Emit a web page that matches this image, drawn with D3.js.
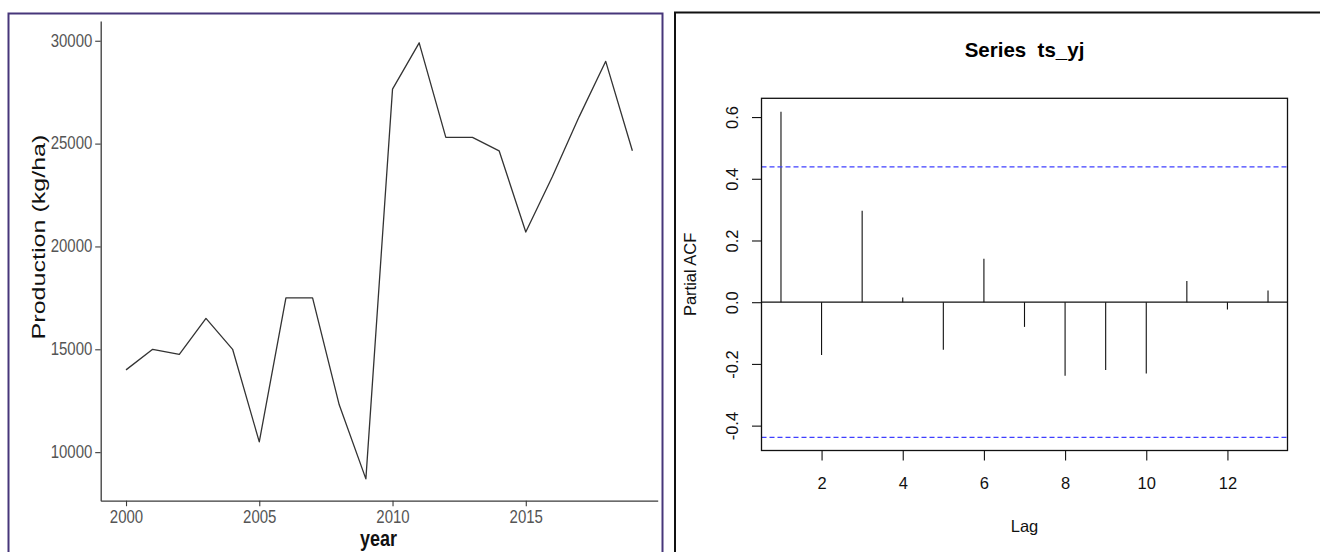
<!DOCTYPE html>
<html>
<head>
<meta charset="utf-8">
<script src="https://cdn.jsdelivr.net/npm/d3@7"></script>
<style>
  html, body { margin: 0; padding: 0; background: #ffffff; }
  svg { display: block; font-family: "Liberation Sans", Arial, sans-serif; }
</style>
</head>
<body>
<svg id="chart" width="1320" height="552"></svg>
<script>
// ---------- data ----------
const years = [2000, 2001, 2002, 2003, 2004, 2005, 2006, 2007, 2008, 2009,
               2010, 2011, 2012, 2013, 2014, 2015, 2016, 2017, 2018, 2019];
const production = [14000, 15000, 14750, 16500, 15000, 10500, 17500, 17500, 12300, 8700,
                    27650, 29900, 25300, 25300, 24650, 20700, 23400, 26300, 29000, 24650];
const yearTicks = [2000, 2005, 2010, 2015];
const prodTicks = [10000, 15000, 20000, 25000, 30000];

const lags = [1, 2, 3, 4, 5, 6, 7, 8, 9, 10, 11, 12, 13];
const pacf = [0.617, -0.171, 0.296, 0.015, -0.154, 0.141, -0.080, -0.238, -0.220, -0.231, 0.069, -0.024, 0.038];
const ciBounds = [0.4383, -0.4383];
const lagTicks = [2, 4, 6, 8, 10, 12];
const pacfTicks = [-0.4, -0.2, 0.0, 0.2, 0.4, 0.6];
const pacfTickLabels = ["-0.4", "-0.2", "0.0", "0.2", "0.4", "0.6"];

const svg = d3.select("#chart");

// ---------- panel frames ----------
svg.append("rect").attr("x", 8.5).attr("y", 13.5).attr("width", 654).attr("height", 560)
  .attr("fill", "none").attr("stroke", "#47367a").attr("stroke-width", 2);
svg.append("rect").attr("x", 675).attr("y", 12.5).attr("width", 700).attr("height", 560)
  .attr("fill", "none").attr("stroke", "#111").attr("stroke-width", 2);

// ---------- left: production line ----------
const xL = d3.scaleLinear().domain([1999.05, 2019.95]).range([100.7, 657.7]);
const yL = d3.scaleLinear().domain([7640, 30960]).range([500.7, 21]);
const stretch = 1.2;
const axisCol = "#3a3a3a", tickTxt = "#555555";

const gxL = svg.append("g").attr("transform", "translate(0,500.7)")
  .call(d3.axisBottom(xL).tickValues(yearTicks).tickSize(5.5).tickSizeOuter(0).tickFormat(d3.format("d")));
gxL.select(".domain").attr("stroke", axisCol).attr("stroke-width", 1.3);
gxL.selectAll(".tick line").attr("stroke", axisCol).attr("stroke-width", 1.1);
gxL.selectAll(".tick text")
  .attr("y", 22 / stretch).attr("dy", null)
  .attr("transform", `scale(1,${stretch})`)
  .attr("font-size", 15).attr("fill", tickTxt).attr("font-family", "Liberation Sans, Arial, sans-serif");

const gyL = svg.append("g").attr("transform", "translate(100.7,0)")
  .call(d3.axisLeft(yL).tickValues(prodTicks).tickSize(5.5).tickSizeOuter(0).tickFormat(d3.format("d")));
gyL.select(".domain").attr("stroke", axisCol).attr("stroke-width", 1.3);
gyL.selectAll(".tick line").attr("stroke", axisCol).attr("stroke-width", 1.1);
gyL.selectAll(".tick text")
  .attr("x", -8.4).attr("dy", null).attr("y", 5.3 / stretch)
  .attr("transform", `scale(1,${stretch})`)
  .attr("font-size", 15).attr("fill", tickTxt).attr("font-family", "Liberation Sans, Arial, sans-serif");

const line = d3.line().x((d, i) => xL(years[i])).y(d => yL(d));
svg.append("path").datum(production)
  .attr("d", line).attr("fill", "none").attr("stroke", "#333").attr("stroke-width", 1.3)
  .attr("stroke-linejoin", "round");

svg.append("text")
  .attr("transform", `translate(378.5,545.7) scale(1,${stretch})`)
  .attr("text-anchor", "middle").attr("font-size", 18).attr("font-weight", "bold")
  .attr("fill", "#111").text("year");

svg.append("text")
  .attr("transform", `translate(45,237) scale(1,1.32) rotate(-90)`)
  .attr("text-anchor", "middle").attr("font-size", 19)
  .attr("fill", "#111").text("Production (kg/ha)");

// ---------- right: PACF ----------
const xR = d3.scaleLinear().domain([0.52, 13.48]).range([761.5, 1287.5]);
const yR = d3.scaleLinear().domain([-0.4806, 0.6608]).range([450.5, 98.3]);
const fsR = 16.5;

// zero line
svg.append("line").attr("x1", xR(0.52)).attr("x2", xR(13.48))
  .attr("y1", yR(0)).attr("y2", yR(0)).attr("stroke", "#111").attr("stroke-width", 1.2);

// spikes
svg.append("g").selectAll("line").data(pacf).join("line")
  .attr("x1", (d, i) => xR(lags[i])).attr("x2", (d, i) => xR(lags[i]))
  .attr("y1", yR(0)).attr("y2", d => yR(d))
  .attr("stroke", "#111").attr("stroke-width", 1.1);

// confidence bounds
svg.append("g").selectAll("line").data(ciBounds).join("line")
  .attr("x1", xR(0.52)).attr("x2", xR(13.48))
  .attr("y1", d => yR(d)).attr("y2", d => yR(d))
  .attr("stroke", "#3f3fff").attr("stroke-width", 1.3).attr("stroke-dasharray", "5,3");

// box
svg.append("rect").attr("x", xR(0.52)).attr("y", yR(0.6608))
  .attr("width", xR(13.48) - xR(0.52)).attr("height", yR(-0.4806) - yR(0.6608))
  .attr("fill", "none").attr("stroke", "#111").attr("stroke-width", 1.3);

// x axis
const gxR = svg.append("g").attr("transform", `translate(0,${yR(-0.4806)})`)
  .call(d3.axisBottom(xR).tickValues(lagTicks).tickSize(10).tickSizeOuter(0));
gxR.select(".domain").remove();
gxR.selectAll(".tick line").attr("stroke", "#111").attr("stroke-width", 1.1);
gxR.selectAll(".tick text").attr("y", 489.3 - yR(-0.4806)).attr("dy", null)
  .attr("font-size", fsR).attr("fill", "#111").attr("font-family", "Liberation Sans, Arial, sans-serif");

// y axis
const gyR = svg.append("g").attr("transform", `translate(${xR(0.52)},0)`)
  .call(d3.axisLeft(yR).tickValues(pacfTicks).tickSize(9.5).tickSizeOuter(0)
    .tickFormat((d, i) => pacfTickLabels[i]));
gyR.select(".domain").remove();
gyR.selectAll(".tick line").attr("stroke", "#111").attr("stroke-width", 1.1);
gyR.selectAll(".tick text")
  .attr("x", null).attr("dy", null).attr("text-anchor", "middle")
  .attr("transform", `translate(${738 - xR(0.52)},0) rotate(-90)`)
  .attr("font-size", fsR).attr("fill", "#111").attr("font-family", "Liberation Sans, Arial, sans-serif");

// titles
svg.append("text").attr("x", (xR(0.52) + xR(13.48)) / 2).attr("y", 56.7)
  .attr("text-anchor", "middle").attr("font-size", 20.5).attr("font-weight", "bold")
  .attr("fill", "#000").text("Series  ts_yj").style("white-space", "pre");
svg.append("text").attr("x", (xR(0.52) + xR(13.48)) / 2).attr("y", 531.7)
  .attr("text-anchor", "middle").attr("font-size", fsR).attr("fill", "#111").text("Lag");
svg.append("text")
  .attr("transform", `translate(696,${(yR(0.6608) + yR(-0.4806)) / 2}) rotate(-90)`)
  .attr("text-anchor", "middle").attr("font-size", fsR).attr("fill", "#111").text("Partial ACF");
</script>
</body>
</html>
